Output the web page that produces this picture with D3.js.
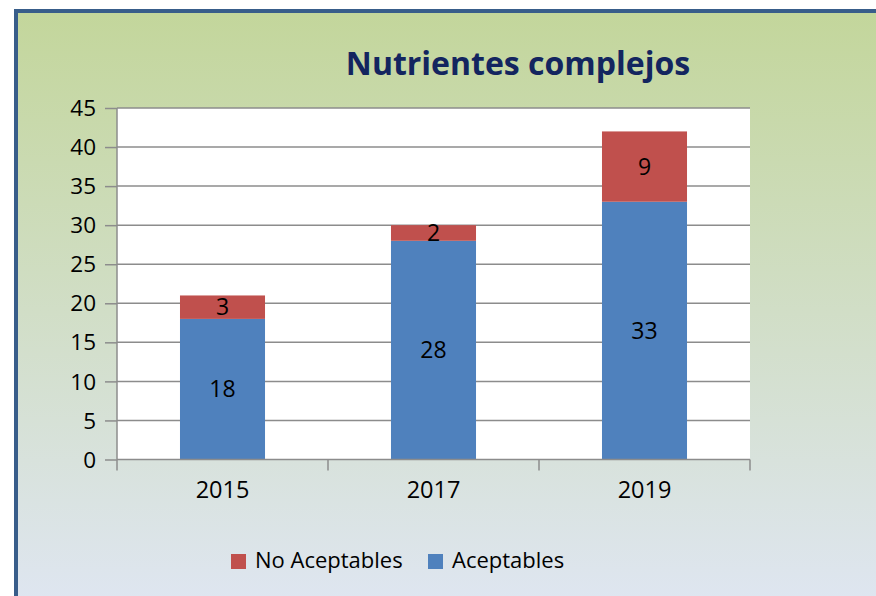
<html><head>
    <script src="https://d3js.org/d3.v7.min.js"></script>
    <style>
      body { margin: 0; background: #fff; }
      text { font-family: "Open Sans", "Liberation Sans", sans-serif; fill: #000; }
      .grid line { stroke: #8c8c8c; stroke-width: 1.5px; }
      .axisline { stroke: #8c8c8c; stroke-width: 1.5px; fill: none; }
    </style>
  </head>
  <body>
    <script>
        // Data
        const years = ["2015", "2017", "2019"]
        const aceptables = [18, 28, 33]
        const noAceptables = [3, 2, 9]
        const yTicks = [0, 5, 10, 15, 20, 25, 30, 35, 40, 45]
        const seriesNames = ["Aceptables", "No Aceptables"]
        const seriesColors = ["#4f81bd", "#c0504d"]

        const rows = years.map((y, i) => ({year: y, "Aceptables": aceptables[i], "No Aceptables": noAceptables[i]}))

        const width = 876
        const height = 596
        const svg = d3.select("body").append("svg")
                      .attr("width", width)
                      .attr("height", height)

        // background gradient + frame
        const grad = svg.append("defs").append("linearGradient")
                        .attr("id", "bg").attr("x1", 0).attr("y1", 0).attr("x2", 0).attr("y2", 1)
        grad.append("stop").attr("offset", "0%").attr("stop-color", "#c3d69b")
        grad.append("stop").attr("offset", "100%").attr("stop-color", "#dfe6f2")

        svg.append("rect")
           .attr("x", 16).attr("y", 11)
           .attr("width", 880).attr("height", 600)
           .attr("fill", "url(#bg)")
           .attr("stroke", "#385d8a")
           .attr("stroke-width", 4)

        // plot area
        const plot = {left: 117, right: 750, top: 108, bottom: 459.5}

        const x = d3.scaleBand().domain(years)
                    .range([plot.left, plot.right])
                    .paddingInner(0.597)
                    .paddingOuter(0.2985)
        const y = d3.scaleLinear().domain([0, 45]).range([plot.bottom, plot.top])

        svg.append("rect")
           .attr("x", plot.left).attr("y", plot.top)
           .attr("width", plot.right - plot.left)
           .attr("height", plot.bottom - plot.top)
           .attr("fill", "#fff")

        // gridlines
        svg.append("g").attr("class", "grid")
           .selectAll("line").data(yTicks.filter(d => d > 0))
           .join("line")
           .attr("x1", plot.left).attr("x2", plot.right)
           .attr("y1", d => y(d)).attr("y2", d => y(d))

        // y axis
        const yAxis = d3.axisLeft(y).tickValues(yTicks).tickSize(12).tickPadding(9)
        const gy = svg.append("g")
                      .attr("transform", "translate(" + plot.left + ",0)")
                      .call(yAxis)
        gy.select(".domain").remove()
        gy.selectAll("line").attr("class", "axisline")
        gy.selectAll("text").style("font-size", "22.5px").attr("dy", "0.34em")
        svg.append("line").attr("class", "axisline")
           .attr("x1", plot.left).attr("x2", plot.left)
           .attr("y1", plot.top).attr("y2", plot.bottom)

        // bars
        const stacked = d3.stack().keys(seriesNames)(rows)
        const layers = svg.append("g").selectAll("g").data(stacked)
                          .join("g")
                          .attr("fill", (d, i) => seriesColors[i])
        layers.selectAll("rect").data(d => d)
              .join("rect")
              .attr("x", d => x(d.data.year))
              .attr("width", x.bandwidth())
              .attr("y", d => y(d[1]))
              .attr("height", d => y(d[0]) - y(d[1]))

        // data labels
        layers.selectAll("text").data(d => d)
              .join("text")
              .attr("x", d => x(d.data.year) + x.bandwidth() / 2)
              .attr("y", d => y((d[0] + d[1]) / 2))
              .attr("dy", "0.36em")
              .attr("text-anchor", "middle")
              .style("font-size", "23px")
              .text(d => d[1] - d[0])

        // x axis
        svg.append("line").attr("class", "axisline")
           .attr("x1", plot.left).attr("x2", plot.right)
           .attr("y1", plot.bottom).attr("y2", plot.bottom)
        const step = x.step()
        const bounds = years.map(d => x(d) + x.bandwidth() / 2 - step / 2)
        bounds.push(plot.right)
        svg.append("g").selectAll("line").data(bounds)
           .join("line").attr("class", "axisline")
           .attr("x1", d => d).attr("x2", d => d)
           .attr("y1", plot.bottom).attr("y2", plot.bottom + 11)
        svg.append("g").selectAll("text").data(years)
           .join("text")
           .attr("x", d => x(d) + x.bandwidth() / 2)
           .attr("y", 498)
           .attr("text-anchor", "middle")
           .style("font-size", "23.5px")
           .text(d => d)

        // title
        svg.append("text")
           .attr("x", 518).attr("y", 75)
           .attr("text-anchor", "middle")
           .style("font-size", "32px")
           .style("font-weight", "bold")
           .style("fill", "#13255f")
           .text("Nutrientes complejos")

        // legend
        const legendItems = [
          {name: "No Aceptables", color: seriesColors[1], x: 231},
          {name: "Aceptables", color: seriesColors[0], x: 428}
        ]
        const legend = svg.append("g").selectAll("g").data(legendItems)
                          .join("g")
                          .attr("transform", d => "translate(" + d.x + ",554)")
        legend.append("rect")
              .attr("width", 15).attr("height", 15)
              .attr("fill", d => d.color)
        legend.append("text")
              .attr("x", 24).attr("y", 14)
              .style("font-size", "22px")
              .text(d => d.name)
    </script>
  </body></html>
